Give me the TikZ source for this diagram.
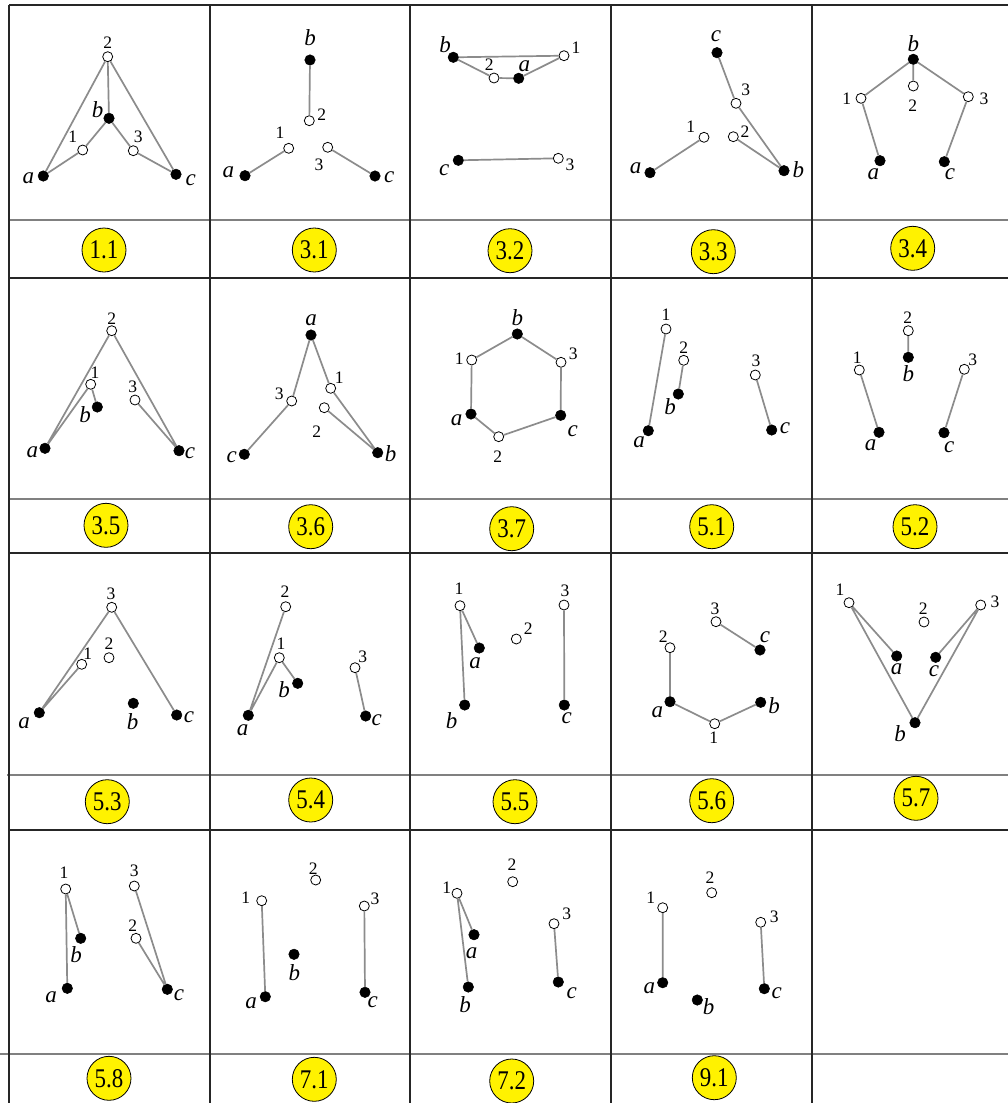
\documentclass[tikz,border=0pt]{standalone}
\usepackage{graphicx}
\usepackage{fontspec}
\setmainfont{Liberation Serif}
\tikzset{
  fdot/.style={circle, fill=black, draw=black, line width=0.5pt, minimum size=10.5pt, inner sep=0pt},
  odot/.style={circle, fill=white, draw=black, line width=0.8pt, minimum size=10pt, inner sep=0pt},
  fdotlab/.style={font=\fontsize{23}{23}\selectfont\itshape, inner sep=0pt},
  odotlab/.style={font=\fontsize{17.5}{17.5}\selectfont, inner sep=0pt},
  conn/.style={draw=black!45, line width=1.7pt},
  thk/.style={draw=black!85, line width=2pt},
  thn/.style={draw=black!50, line width=1.5pt},
  tagc/.style={circle, fill=yellow, draw=black, line width=0.8pt, minimum size=44pt, inner sep=0pt,
    font=\fontsize{27}{27}\selectfont}
}
\newcommand\vtx[5]{\node[#1] (#2) at (#3) {}; \node[#1lab] (#2t) at (#5) {#4};}
\newcommand\tg[3]{\node[tagc] (#1) at (#2) {\scalebox{0.85}[1]{#3}};}
\begin{document}
\begin{tikzpicture}[x=1pt,y=-1pt]
\useasboundingbox (0,0) rectangle (1008,1103);
\fill[white] (0,0) rectangle (1008,1103);
% grid
\draw[thn] (9,220) -- (1008,220);
\draw[thn] (9,499) -- (1008,499);
\draw[thn] (7,775) -- (1008,775);
\draw[thn] (0,1054) -- (1008,1054);
\draw[thk] (9,5) -- (1008,5);
\draw[thk] (9,278) -- (1008,278);
\draw[thk] (9,553) -- (1008,553);
\draw[thk] (9,830) -- (1008,830);
\foreach \xx in {9,210,410,611,812} { \draw[thk] (\xx,5) -- (\xx,1103); }

% 1.1
\vtx{odot}{P11n2}{107.7,56.7}{2}{107.7,42.7}
\vtx{fdot}{P11b}{109,118.3}{b}{97.7,110}
\vtx{odot}{P11n1}{82.7,150}{1}{72.7,136.7}
\vtx{odot}{P11n3}{133.3,150.7}{3}{138.3,136.7}
\vtx{fdot}{P11a}{43.3,176}{a}{28.3,178.3}
\vtx{fdot}{P11c}{176,174.3}{c}{190.7,180}
\draw[conn] (P11n2)--(P11a) (P11n2)--(P11b) (P11n2)--(P11c) (P11b)--(P11n1) (P11n1)--(P11a) (P11b)--(P11n3) (P11n3)--(P11c);

% 3.1
\vtx{fdot}{P31b}{310,60}{b}{310,37.3}
\vtx{odot}{P31n2}{309.3,120.7}{2}{321.7,114.3}
\vtx{odot}{P31n1}{288.7,148.3}{1}{280,132.7}
\vtx{odot}{P31n3}{327.7,147.3}{3}{319,165}
\vtx{fdot}{P31a}{245,175.7}{a}{228.3,172.7}
\vtx{fdot}{P31c}{375,176}{c}{389.3,177.3}
\draw[conn] (P31b)--(P31n2) (P31n1)--(P31a) (P31n3)--(P31c);

% 3.2
\vtx{fdot}{P32b}{453.3,57.3}{b}{445,44.3}
\vtx{odot}{P32n1}{564,55.7}{1}{576,47.3}
\vtx{odot}{P32n2}{494,78}{2}{489.3,65}
\vtx{fdot}{P32a}{518.7,78.3}{a}{524.3,66.7}
\vtx{fdot}{P32c}{458.3,160.3}{c}{444.3,170}
\vtx{odot}{P32n3}{558.3,158.3}{3}{570,165}
\draw[conn] (P32b)--(P32n1) (P32b)--(P32n2) (P32n2)--(P32a) (P32a)--(P32n1) (P32c)--(P32n3);

% 3.3
\vtx{fdot}{P33c}{717,52.7}{c}{716,36}
\vtx{odot}{P33n3}{736,103.3}{3}{745.7,90}
\vtx{odot}{P33n1}{704,137.3}{1}{690.7,126.7}
\vtx{odot}{P33n2}{733.3,136.7}{2}{745,131.7}
\vtx{fdot}{P33a}{650,172.7}{a}{635.7,168.3}
\vtx{fdot}{P33b}{784,170.7}{b}{798.3,169.3}
\draw[conn] (P33c)--(P33n3) (P33n3)--(P33b) (P33n2)--(P33b) (P33n1)--(P33a);

% 3.4
\vtx{fdot}{P34b}{913.3,59.3}{b}{913.3,43.3}
\vtx{odot}{P34n2}{913.3,86}{2}{912.7,106}
\vtx{odot}{P34n1}{861,98.3}{1}{846.7,99}
\vtx{odot}{P34n3}{968.3,96.7}{3}{984,99}
\vtx{fdot}{P34a}{880,160.7}{a}{873.3,174}
\vtx{fdot}{P34c}{944.3,161.7}{c}{950,174}
\draw[conn] (P34b)--(P34n1) (P34b)--(P34n2) (P34b)--(P34n3) (P34n1)--(P34a) (P34n3)--(P34c);

% 3.5
\vtx{odot}{P35n2}{111.7,330.7}{2}{111.7,318.3}
\vtx{odot}{P35n1}{90.7,384.3}{1}{95,372.7}
\vtx{fdot}{P35b}{97.3,407}{b}{85,415}
\vtx{odot}{P35n3}{135,400}{3}{132.7,386.7}
\vtx{fdot}{P35a}{45,448.3}{a}{32.3,452.3}
\vtx{fdot}{P35c}{179,450.7}{c}{190,452.7}
\draw[conn] (P35n2)--(P35a) (P35n1)--(P35a) (P35n1)--(P35b) (P35n2)--(P35c) (P35n3)--(P35c);

% 3.6
\vtx{fdot}{P36a}{311,335}{a}{311,320.7}
\vtx{odot}{P36n1}{330.7,388.3}{1}{339.3,377.3}
\vtx{odot}{P36n3}{291.7,401}{3}{279.3,393.3}
\vtx{odot}{P36n2}{324.3,407.7}{2}{316.7,431.7}
\vtx{fdot}{P36c}{244.3,454.3}{c}{231.7,456.7}
\vtx{fdot}{P36b}{377.7,452.7}{b}{390.7,453.3}
\draw[conn] (P36a)--(P36n3) (P36n3)--(P36c) (P36a)--(P36n1) (P36n1)--(P36b) (P36n2)--(P36b);

% 3.7
\vtx{fdot}{P37b}{517.3,334}{b}{517.3,317.3}
\vtx{odot}{P37n1}{471.7,360}{1}{459.3,358.3}
\vtx{odot}{P37n3}{561,362.3}{3}{573.3,353.3}
\vtx{fdot}{P37a}{471,414}{a}{456.7,420}
\vtx{fdot}{P37c}{560.7,415.3}{c}{572.7,431.3}
\vtx{odot}{P37n2}{498.7,436.7}{2}{497.7,456.7}
\draw[conn] (P37n1)--(P37b) (P37b)--(P37n3) (P37n3)--(P37c) (P37c)--(P37n2) (P37n2)--(P37a) (P37a)--(P37n1);

% 5.1
\vtx{odot}{P51n1}{666,329}{1}{666,315}
\vtx{odot}{P51n2}{683.7,360.3}{2}{683.7,347.3}
\vtx{fdot}{P51b}{678.3,394}{b}{670,406.7}
\vtx{odot}{P51n3}{755.3,375}{3}{756,361}
\vtx{fdot}{P51a}{648.3,430.7}{a}{639,441.7}
\vtx{fdot}{P51c}{771.7,430}{c}{785,428.3}
\draw[conn] (P51n1)--(P51a) (P51n2)--(P51b) (P51n3)--(P51c);

% 5.2
\vtx{odot}{P52n2}{908.3,330.7}{2}{907.7,317.3}
\vtx{fdot}{P52b}{908.3,357.3}{b}{908.3,373.3}
\vtx{odot}{P52n1}{859.3,370}{1}{857.3,357.3}
\vtx{odot}{P52n3}{964.3,369.3}{3}{972.7,359.3}
\vtx{fdot}{P52a}{879,432.3}{a}{870.7,445}
\vtx{fdot}{P52c}{944,432.7}{c}{949.3,446.7}
\draw[conn] (P52n2)--(P52b) (P52n1)--(P52a) (P52n3)--(P52c);

% 5.3
\vtx{odot}{P53n3}{111.7,607.3}{3}{111,593.3}
\vtx{odot}{P53n2}{109,657.7}{2}{109,643.3}
\vtx{odot}{P53n1}{81.7,664.3}{1}{87.7,653.3}
\vtx{fdot}{P53b}{133.3,703.3}{b}{132.7,721.7}
\vtx{fdot}{P53a}{39.3,712.7}{a}{24,723.3}
\vtx{fdot}{P53c}{176.7,715}{c}{189,717.3}
\draw[conn] (P53n3)--(P53a) (P53n1)--(P53a) (P53n3)--(P53c);

% 5.4
\vtx{odot}{P54n2}{285.7,606.7}{2}{285,591.7}
\vtx{odot}{P54n1}{279.3,657.7}{1}{281,644}
\vtx{fdot}{P54b}{297.7,683.3}{b}{284,689.3}
\vtx{odot}{P54n3}{355,667.7}{3}{362.7,656.7}
\vtx{fdot}{P54a}{248.3,715.3}{a}{242.7,730}
\vtx{fdot}{P54c}{365.7,716}{c}{376.7,720}
\draw[conn] (P54n2)--(P54a) (P54n1)--(P54a) (P54n1)--(P54b) (P54n3)--(P54c);

% 5.5
\vtx{odot}{P55n1}{460,605.7}{1}{459,588.3}
\vtx{fdot}{P55a}{479.3,648}{a}{475,663.3}
\vtx{odot}{P55n2}{516.3,639}{2}{528.3,629}
\vtx{odot}{P55n3}{564,605}{3}{565,590.7}
\vtx{fdot}{P55b}{464.7,705}{b}{451.7,720.7}
\vtx{fdot}{P55c}{564.3,705}{c}{566.7,718.3}
\draw[conn] (P55n1)--(P55a) (P55n1)--(P55b) (P55n3)--(P55c);

% 5.6
\vtx{odot}{P56n3}{716,621.7}{3}{715,608.3}
\vtx{fdot}{P56c}{760,650}{c}{765,637.3}
\vtx{odot}{P56n2}{670,647.7}{2}{663.3,636.7}
\vtx{fdot}{P56a}{670,701.7}{a}{657.3,711.7}
\vtx{fdot}{P56b}{760.7,702.3}{b}{774,706}
\vtx{odot}{P56n1}{714.7,723.7}{1}{713.7,737.7}
\draw[conn] (P56n3)--(P56c) (P56n2)--(P56a) (P56a)--(P56n1) (P56n1)--(P56b);

% 5.7
\vtx{odot}{P57n1}{849,602.7}{1}{840,590}
\vtx{odot}{P57n2}{924,622}{2}{923.3,608.3}
\vtx{odot}{P57n3}{980.7,605}{3}{995,601.7}
\vtx{fdot}{P57a}{896.7,656}{a}{896.7,669.3}
\vtx{fdot}{P57c}{935.7,657.3}{c}{934,670.7}
\vtx{fdot}{P57b}{915,722.7}{b}{900,734}
\draw[conn] (P57n1)--(P57a) (P57n1)--(P57b) (P57n3)--(P57c) (P57n3)--(P57b);

% 5.8
\vtx{odot}{P58n1}{65.7,889}{1}{64,872.7}
\vtx{fdot}{P58b}{80.7,938.3}{b}{76,955}
\vtx{fdot}{P58a}{67.3,988.3}{a}{51,996.7}
\vtx{odot}{P58n3}{134.3,886}{3}{134.3,870.7}
\vtx{odot}{P58n2}{136,938.3}{2}{132.7,926}
\vtx{fdot}{P58c}{167.3,989.3}{c}{179,995}
\draw[conn] (P58n1)--(P58a) (P58n1)--(P58b) (P58n3)--(P58c) (P58n2)--(P58c);

% 7.1
\vtx{odot}{P71n2}{315.7,880}{2}{313.3,869}
\vtx{odot}{P71n1}{261.7,900.7}{1}{245.7,897.3}
\vtx{odot}{P71n3}{364.3,906}{3}{375,899}
\vtx{fdot}{P71b}{294,954.3}{b}{294.3,972.7}
\vtx{fdot}{P71a}{265.3,996.7}{a}{251,1002.7}
\vtx{fdot}{P71c}{365,992.3}{c}{372.7,1002.3}
\draw[conn] (P71n1)--(P71a) (P71n3)--(P71c);

% 7.2
\vtx{odot}{P72n1}{457,893.3}{1}{446.7,887.7}
\vtx{odot}{P72n2}{512.7,881.7}{2}{512,865}
\vtx{fdot}{P72a}{474,934.7}{a}{471.7,953.3}
\vtx{fdot}{P72b}{468.3,987}{b}{465,1005}
\vtx{odot}{P72n3}{554,923.7}{3}{566.7,913.3}
\vtx{fdot}{P72c}{558.3,982}{c}{571.7,993.3}
\draw[conn] (P72n1)--(P72a) (P72n1)--(P72b) (P72n3)--(P72c);

% 9.1
\vtx{odot}{P91n2}{711.7,892.7}{2}{710,877.3}
\vtx{odot}{P91n1}{662.7,907.7}{1}{650.7,897.7}
\vtx{odot}{P91n3}{760.7,922.3}{3}{774.3,916.7}
\vtx{fdot}{P91a}{662.7,982.7}{a}{649.3,988.3}
\vtx{fdot}{P91b}{697.3,1000}{b}{708.7,1006.7}
\vtx{fdot}{P91c}{764.3,988.7}{c}{776.7,993.3}
\draw[conn] (P91n1)--(P91a) (P91n3)--(P91c);

% tags
\tg{T11}{104,250}{1.1}
\tg{T31}{314.3,250}{3.1}
\tg{T32}{510,250.7}{3.2}
\tg{T33}{713.3,251.7}{3.3}
\tg{T34}{912.7,248.3}{3.4}
\tg{T35}{106,525.3}{3.5}
\tg{T36}{310.7,526.7}{3.6}
\tg{T37}{511.7,528.7}{3.7}
\tg{T51}{711.7,526.7}{5.1}
\tg{T52}{915,526.7}{5.2}
\tg{T53}{107.3,801.7}{5.3}
\tg{T54}{310.7,800}{5.4}
\tg{T55}{515,801.7}{5.5}
\tg{T56}{711.7,800.7}{5.6}
\tg{T57}{916,798.3}{5.7}
\tg{T58}{109,1078.3}{5.8}
\tg{T71}{314.3,1079.3}{7.1}
\tg{T72}{511.7,1081}{7.2}
\tg{T91}{714.3,1077.7}{9.1}
\end{tikzpicture}
\end{document}
